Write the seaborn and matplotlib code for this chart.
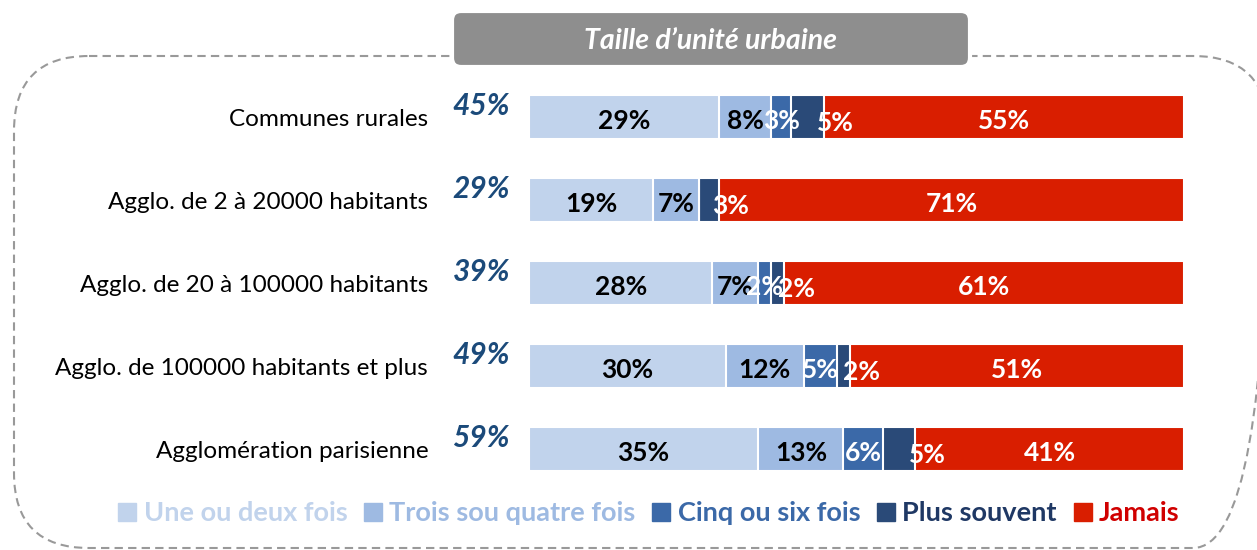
import pandas as pd
import matplotlib.pyplot as plt
import seaborn as sns
from matplotlib.patches import FancyBboxPatch
from matplotlib.lines import Line2D

# Data
categories = ["Communes rurales", "Agglo. de 2 à 20000 habitants",
              "Agglo. de 20 à 100000 habitants", "Agglo. de 100000 habitants et plus",
              "Agglomération parisienne"]
une_deux = [29, 19, 28, 30, 35]
trois_quatre = [8, 7, 7, 12, 13]
cinq_six = [3, 0, 2, 5, 6]
plus_souvent = [5, 3, 2, 2, 5]
jamais = [55, 71, 61, 51, 41]
totals = [45, 29, 39, 49, 59]

series_names = ["Une ou deux fois", "Trois sou quatre fois", "Cinq ou six fois",
                "Plus souvent", "Jamais"]
series_values = [une_deux, trois_quatre, cinq_six, plus_souvent, jamais]
bar_colors = ["#C1D3EC", "#9EBAE2", "#3B69A8", "#2A4A78", "#D91E00"]
legend_text_colors = ["#C1D3EC", "#9EBAE2", "#3B69A8", "#1F3864", "#D00000"]
label_colors = ["black", "black", "white", "white", "white"]

sns.set_style("white")
plt.rcParams['font.family'] = ['Lato', 'DejaVu Sans']

fig = plt.figure(figsize=(12.57, 5.5), dpi=100)

# background overlay in pixel coordinates for the frame and the title box
bg = fig.add_axes([0, 0, 1, 1], zorder=0)
bg.set_xlim(0, 1257)
bg.set_ylim(550, 0)
bg.axis("off")
frame = FancyBboxPatch((14, 56), 1254, 492, boxstyle="round,pad=0,rounding_size=75",
                       fill=False, edgecolor="#999999", linewidth=1.5,
                       linestyle=(0, (4, 2.5)))
bg.add_patch(frame)
title_box = FancyBboxPatch((452, 11), 518, 56, boxstyle="round,pad=0,rounding_size=9",
                           facecolor="#8E8E8E", edgecolor="white", linewidth=3, zorder=3)
bg.add_patch(title_box)
bg.text(711, 41, "Taille d\u2019unité urbaine", color="white", fontsize=20.5,
        fontweight="bold", fontstyle="italic", ha="center", va="center", zorder=4)

# bar axes
ax = fig.add_axes([529 / 1257, 1 - 490.5 / 550, 655 / 1257, 415 / 550], zorder=1)
ax.patch.set_alpha(0)

# stacked bars drawn as cumulative totals, largest first
df = pd.DataFrame({"cat": categories})
cum = [0] * len(categories)
cums = []
for vals in series_values:
    cum = [c + v for c, v in zip(cum, vals)]
    cums.append(cum)
for i in range(len(series_values) - 1, -1, -1):
    df["x"] = cums[i]
    sns.barplot(data=df, x="x", y="cat", orient="h", color=bar_colors[i],
                saturation=1, width=0.53, edgecolor="white", linewidth=1.5, ax=ax)

ax.set_xlim(0, 100)
ax.set_ylim(4.5, -0.5)
ax.axis("off")

# value labels
for i, vals in enumerate(series_values):
    for r, v in enumerate(vals):
        if v == 0:
            continue
        start = cums[i][r] - v
        if i == 3:
            # "Plus souvent" labels sit just past the segment, as in the original
            ax.text(cums[i][r] - 1.0, r + 0.07, f"{v}%", ha="left", va="center",
                    fontsize=19, fontweight="bold", color=label_colors[i])
        else:
            ax.text(start + v / 2, r + 0.05, f"{v}%", ha="center", va="center",
                    fontsize=19, fontweight="bold", color=label_colors[i])

# category names and totals
for r, name in enumerate(categories):
    ax.text(-15.4, r + 0.03, name, ha="right", va="center", fontsize=17.5, color="black")
    ax.text(-2.9, r - 0.13, f"{totals[r]}%", ha="right", va="center", fontsize=21.5,
            fontweight="bold", fontstyle="italic", color="#1B4A7A")

# legend
handles = [Line2D([0], [0], marker="s", linestyle="none", markersize=13,
                  markerfacecolor=c, markeredgecolor=c) for c in bar_colors]
leg = fig.legend(handles, series_names, loc="center", ncol=5,
                 bbox_to_anchor=(648 / 1257, 1 - 513 / 550), frameon=False,
                 handletextpad=0.2, columnspacing=0.55, handlelength=0.8,
                 prop={"size": 19.5, "weight": "bold"})
for t, c in zip(leg.get_texts(), legend_text_colors):
    t.set_color(c)

fig.savefig("out.png", dpi=100)
